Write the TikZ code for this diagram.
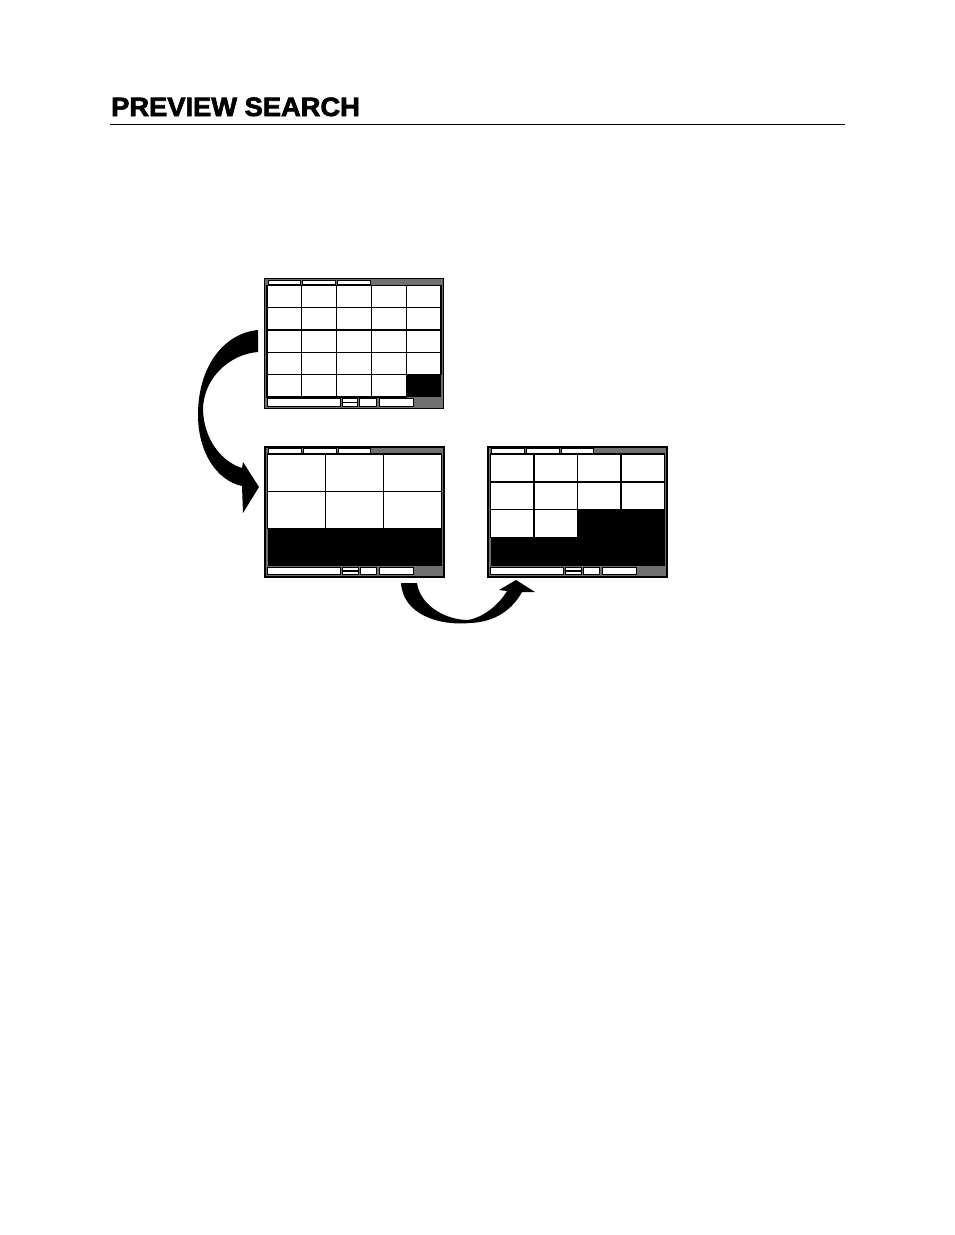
\documentclass[tikz,border=0pt]{standalone}
\usepackage{fontspec}
\newfontfamily\headfont{Liberation Sans}[BoldFeatures={FakeBold=2.5,FakeStretch=1.03}]
\usetikzlibrary{positioning}
\definecolor{panel}{gray}{0.44}
\tikzset{
  screen/.style={draw=black,line width=1.6pt,fill=panel,minimum width=179pt,minimum height=130pt,inner sep=0pt,outer sep=0pt,anchor=north west},
  tab/.style={draw=black,line width=0.9pt,fill=white},
  cell/.style={draw=black,line width=1.3pt,fill=white},
  bar/.style={draw=black,line width=1pt,fill=white},
  sweep/.style={fill=black},
}
% monitor: name, top left corner, columns, rows, live cells
\newcommand\drawscreen[5]{%
  \node[screen] (#1) at #2 {};
  \begin{scope}[shift={(#1.north west)}]
    \draw[tab] (3.5,1.5) rectangle (36,6);
    \draw[tab] (38,1.5) rectangle (71,6);
    \draw[tab] (73,1.5) rectangle (105.5,6);
    \fill[black] (2.5,7) rectangle (176.5,118.5);
    \pgfmathsetmacro\cw{174/#3}
    \pgfmathsetmacro\ch{111.5/#4}
    \foreach \k in {1,...,#5}{
      \pgfmathtruncatemacro\cc{mod(\k-1,#3)}
      \pgfmathtruncatemacro\rr{div(\k-1,#3)}
      \draw[cell] ({2.5+\cc*\cw},{7+\rr*\ch}) rectangle ++(\cw,\ch);
    }
    \draw[bar] (2.5,120) rectangle (75.5,127.5);
    \draw[bar] (77.5,120) rectangle (93,127.5);
    \draw[line width=1.5pt] (77.5,123.75) -- (93,123.75);
    \draw[bar] (95,120) rectangle (111.5,127.5);
    \draw[bar] (114.5,120) rectangle (148.5,127.5);
  \end{scope}}

\begin{document}
\begin{tikzpicture}[x=1pt,y=-1pt]
  \useasboundingbox (0,0) rectangle (954,1235);

  % heading
  \node[anchor=base west,inner sep=0pt,font=\headfont\bfseries\fontsize{26.5}{30}\selectfont] (title) at (111,116) {PREVIEW SEARCH};
  \coordinate (ruleL) at (110,124);
  \coordinate (ruleR) at (845,124);
  \draw[line width=1pt] (ruleL) -- (ruleR);

  % screens
  \drawscreen{mon1}{(264.5,278.5)}{5}{5}{24}
  \drawscreen{mon2}{(265,447)}{3}{3}{6}
  \drawscreen{mon3}{(488,447)}{4}{4}{10}

  % curved arrows
  \fill[sweep] (258,330) .. controls (225,333) and (198,365) .. (198,415)
    .. controls (198,450) and (215,480) .. (242,486) -- (243,513) -- (259,487)
    -- (243,462) -- (242,468) .. controls (222,462) and (204,440) .. (203,410)
    .. controls (203,378) and (230,354) .. (258,352) -- cycle;
  \fill[sweep] (401,583) -- (417,583) .. controls (420,605) and (445,620) .. (468,620)
    .. controls (485,617) and (500,603) .. (507,591) -- (499,590) -- (516,580)
    -- (535,592) -- (522,592) .. controls (512,610) and (495,622) .. (470,623)
    .. controls (440,626) and (403,615) .. (401,583) -- cycle;
\end{tikzpicture}
\end{document}
